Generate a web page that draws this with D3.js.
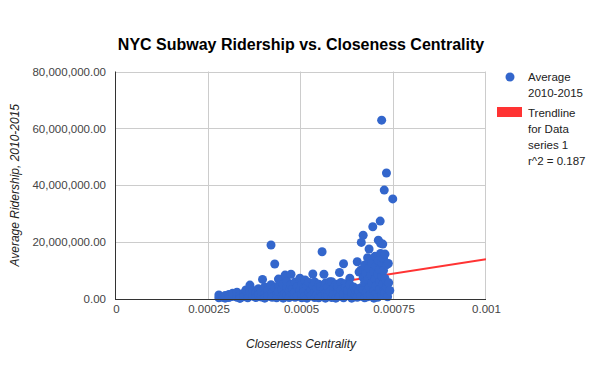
<!DOCTYPE html>
<html>
<head>
<meta charset="utf-8">
<script src="https://cdn.jsdelivr.net/npm/d3@7"></script>
<style>
  body { margin: 0; background: #fff; }
  svg { font-family: Arial, "Liberation Sans", sans-serif; }
</style>
</head>
<body>
<div id="chart"></div>
<script>
const width = 600,
  height = 371,
  margin = { top: 71.5, right: 114, bottom: 72, left: 116 };

const title = 'NYC Subway Ridership vs. Closeness Centrality';
const xTitle = 'Closeness Centrality';
const yTitle = 'Average Ridership, 2010-2015';
const seriesName = ['Average', '2010-2015'];
const trendName = ['Trendline', 'for Data', 'series 1', 'r^2 = 0.187'];

const xTicks = [0, 0.00025, 0.0005, 0.00075, 0.001];
const xTickLabels = ['0', '0.00025', '0.0005', '0.00075', '0.001'];
const yTicks = [0, 20e6, 40e6, 60e6, 80e6];

// linear trendline: ridership = slope * closeness + intercept
const trendSlope = 2.02e10;
const trendIntercept = -6.24e6;

// stations: [closeness x 1e-4, average ridership in millions]
const stations = [
  [2.78, 1.4], [2.78, 0.4], [2.88, 0.6], [2.95, 1.2], [2.95, 0.3], [3.05, 1.6], [3.05, 0.5],
  [3.15, 0.9], [3.15, 2.0], [3.27, 2.4], [3.27, 0.6], [3.35, 1.3], [3.35, 0.2], [3.45, 2.0],
  [3.45, 0.8], [3.51, 3.2], [3.56, 1.5], [3.56, 0.4], [3.62, 4.9], [3.62, 2.6], [3.70, 1.0],
  [3.70, 3.0], [3.78, 2.2], [3.78, 0.5], [3.85, 3.6], [3.85, 1.4], [3.93, 0.7], [3.93, 2.8],
  [3.96, 6.9], [4.02, 4.2], [4.02, 1.8], [4.02, 0.3], [4.10, 3.0], [4.10, 1.0], [4.19, 19.0],
  [4.19, 5.0], [4.22, 2.2], [4.22, 0.6], [4.29, 12.3], [4.29, 3.8], [4.34, 1.5], [4.34, 0.4],
  [4.39, 7.0], [4.39, 4.6], [4.39, 2.6], [4.43, 6.9], [4.48, 3.4], [4.48, 1.0], [4.52, 5.2],
  [4.52, 0.3], [4.57, 8.4], [4.57, 2.0], [4.62, 4.0], [4.62, 1.2], [4.62, 6.2], [4.68, 2.8],
  [4.68, 0.5], [4.73, 8.7], [4.73, 5.0], [4.78, 3.5], [4.78, 1.6], [4.84, 6.0], [4.84, 0.6],
  [4.84, 2.4], [4.90, 4.4], [4.90, 1.0], [4.97, 7.3], [4.97, 3.0], [5.02, 5.4], [5.02, 0.4],
  [5.02, 1.8], [5.08, 3.6], [5.08, 2.6], [5.11, 6.7], [5.11, 1.0], [5.16, 4.6], [5.16, 0.3],
  [5.22, 5.8], [5.22, 2.2], [5.27, 3.2], [5.27, 1.2], [5.32, 8.8], [5.32, 4.8], [5.37, 0.5],
  [5.37, 2.6], [5.37, 6.0], [5.43, 3.8], [5.43, 1.5], [5.48, 5.2], [5.48, 0.4], [5.53, 2.8],
  [5.53, 4.4], [5.57, 16.6], [5.57, 1.0], [5.62, 8.7], [5.62, 3.5], [5.66, 5.6], [5.66, 0.3],
  [5.66, 2.0], [5.72, 4.2], [5.72, 1.2], [5.78, 6.1], [5.78, 2.6], [5.83, 6.1], [5.83, 0.5],
  [5.88, 3.8], [5.88, 1.6], [5.94, 5.2], [5.94, 0.3], [5.99, 2.6], [5.99, 4.4], [6.04, 9.3],
  [6.04, 1.0], [6.08, 5.8], [6.08, 3.2], [6.15, 12.4], [6.15, 0.4], [6.15, 2.0], [6.20, 5.4],
  [6.20, 4.0], [6.26, 1.2], [6.26, 3.0], [6.32, 7.3], [6.32, 5.0], [6.37, 0.3], [6.37, 2.4],
  [6.42, 4.2], [6.47, 1.4], [6.47, 3.2], [6.52, 13.1], [6.52, 3.6], [6.52, 0.6], [6.57, 2.8],
  [6.57, 9.5], [6.62, 10.2], [6.62, 4.0], [6.62, 1.0], [6.63, 19.9], [6.68, 22.4], [6.68, 7.5],
  [6.68, 3.4], [6.72, 12.0], [6.72, 0.4], [6.72, 5.8], [6.76, 9.0], [6.76, 2.2], [6.80, 14.5],
  [6.80, 6.8], [6.80, 0.8], [6.84, 17.6], [6.84, 10.8], [6.84, 4.0], [6.88, 8.4], [6.88, 1.6],
  [6.92, 12.6], [6.92, 5.6], [6.94, 25.4], [6.97, 3.0], [6.97, 9.8], [6.97, 0.3], [7.00, 15.0],
  [7.00, 7.0], [7.03, 11.5], [7.03, 2.0], [7.03, 4.6], [7.07, 8.8], [7.07, 0.6], [7.09, 20.7],
  [7.09, 13.6], [7.12, 6.0], [7.12, 10.4], [7.12, 3.2], [7.14, 27.4], [7.15, 19.6], [7.15, 16.0],
  [7.18, 62.9], [7.18, 12.8], [7.18, 1.2], [7.18, 8.0], [7.21, 19.3], [7.21, 5.2], [7.23, 14.2],
  [7.23, 10.0], [7.23, 2.6], [7.25, 38.3], [7.27, 2.4], [7.27, 7.2], [7.27, 15.8], [7.31, 44.3],
  [7.31, 12.0], [7.31, 4.2], [7.34, 0.8], [7.36, 12.5], [7.37, 5.7], [7.40, 3.0], [7.48, 35.2]
];

const data = stations.map(([c, r]) => ({ x: c * 1e-4, y: r * 1e6 }));

const svg = d3.select('#chart')
  .append('svg')
  .attr('width', width)
  .attr('height', height);

const x = d3.scaleLinear()
  .domain([0, 0.001])
  .range([margin.left, width - margin.right]);

const y = d3.scaleLinear()
  .domain([0, 80e6])
  .range([height - margin.bottom, margin.top]);

const fmtY = d3.format(',.2f');

// gridlines
svg.append('g')
  .attr('class', 'grid-y')
  .selectAll('line')
  .data(yTicks.slice(1))
  .enter().append('line')
    .attr('x1', x(0)).attr('x2', x(0.001))
    .attr('y1', d => Math.round(y(d)) + 0.5).attr('y2', d => Math.round(y(d)) + 0.5)
    .attr('stroke', '#ccc');

svg.append('g')
  .attr('class', 'grid-x')
  .selectAll('line')
  .data(xTicks.slice(1))
  .enter().append('line')
    .attr('x1', d => Math.round(x(d)) - 0.5).attr('x2', d => Math.round(x(d)) - 0.5)
    .attr('y1', y(0)).attr('y2', y(80e6))
    .attr('stroke', '#ccc');

// y axis via d3.axisLeft, styled like the reference
const yAxis = svg.append('g')
  .attr('transform', `translate(${x(0) - 10},0)`)
  .call(d3.axisLeft(y).tickValues(yTicks).tickFormat(fmtY).tickSize(0).tickPadding(0));
yAxis.select('.domain').remove();
yAxis.selectAll('text')
  .attr('fill', '#444')
  .style('font-size', '11.5px')
  .style('font-family', 'Arial, "Liberation Sans", sans-serif');

const xAxis = svg.append('g')
  .attr('transform', `translate(0,${y(0) + 6})`)
  .call(d3.axisBottom(x).tickValues(xTicks).tickFormat((d, i) => xTickLabels[i]).tickSize(0).tickPadding(0));
xAxis.select('.domain').remove();
xAxis.selectAll('text')
  .attr('fill', '#444')
  .style('font-size', '11.5px')
  .style('font-family', 'Arial, "Liberation Sans", sans-serif');

// trendline, clipped to the plot area
svg.append('clipPath')
  .attr('id', 'plot-clip')
  .append('rect')
    .attr('x', x(0)).attr('y', y(80e6))
    .attr('width', x(0.001) - x(0)).attr('height', y(0) - y(80e6));

const trendX = [0, 0.001];
svg.append('path')
  .datum(trendX.map(v => ({ x: v, y: trendSlope * v + trendIntercept })))
  .attr('clip-path', 'url(#plot-clip)')
  .attr('fill', 'none')
  .attr('stroke', '#f33')
  .attr('stroke-width', 2)
  .attr('d', d3.line().x(d => x(d.x)).y(d => y(d.y)));

// axis lines
svg.append('line')
  .attr('x1', x(0) - 0.5).attr('x2', x(0) - 0.5)
  .attr('y1', y(80e6)).attr('y2', y(0))
  .attr('stroke', '#333');

// points
svg.append('g')
  .attr('class', 'points')
  .selectAll('circle')
  .data(data)
  .enter().append('circle')
    .attr('cx', d => x(d.x))
    .attr('cy', d => y(d.y))
    .attr('r', 4.5)
    .attr('fill', '#3366cc');

svg.append('line')
  .attr('x1', x(0) - 1).attr('x2', x(0.001))
  .attr('y1', y(0) + 0.5).attr('y2', y(0) + 0.5)
  .attr('stroke', '#333');

// titles
svg.append('text')
  .attr('x', (x(0) + x(0.001)) / 2)
  .attr('y', 50)
  .attr('text-anchor', 'middle')
  .attr('fill', '#000')
  .style('font-size', '16px')
  .style('font-weight', 'bold')
  .text(title);

svg.append('text')
  .attr('x', (x(0) + x(0.001)) / 2)
  .attr('y', 348)
  .attr('text-anchor', 'middle')
  .attr('fill', '#222')
  .style('font-size', '12px')
  .style('font-style', 'italic')
  .text(xTitle);

svg.append('text')
  .attr('transform', `translate(19,${(y(0) + y(80e6)) / 2}) rotate(-90)`)
  .attr('text-anchor', 'middle')
  .attr('fill', '#222')
  .style('font-size', '12px')
  .style('font-style', 'italic')
  .text(yTitle);

// legend
const legend = svg.append('g').attr('class', 'legend');
legend.append('circle')
  .attr('cx', 510).attr('cy', 77).attr('r', 4.5)
  .attr('fill', '#3366cc');
legend.selectAll('text.series')
  .data(seriesName)
  .enter().append('text')
    .attr('class', 'series')
    .attr('x', 528)
    .attr('y', (d, i) => 81 + i * 16)
    .attr('fill', '#222')
    .style('font-size', '11.5px')
    .text(d => d);

legend.append('rect')
  .attr('x', 497).attr('y', 107)
  .attr('width', 25).attr('height', 10)
  .attr('fill', '#f33');
legend.selectAll('text.trend')
  .data(trendName)
  .enter().append('text')
    .attr('class', 'trend')
    .attr('x', 528)
    .attr('y', (d, i) => 117 + i * 16)
    .attr('fill', '#222')
    .style('font-size', '11.5px')
    .text(d => d);
</script>
</body>
</html>
